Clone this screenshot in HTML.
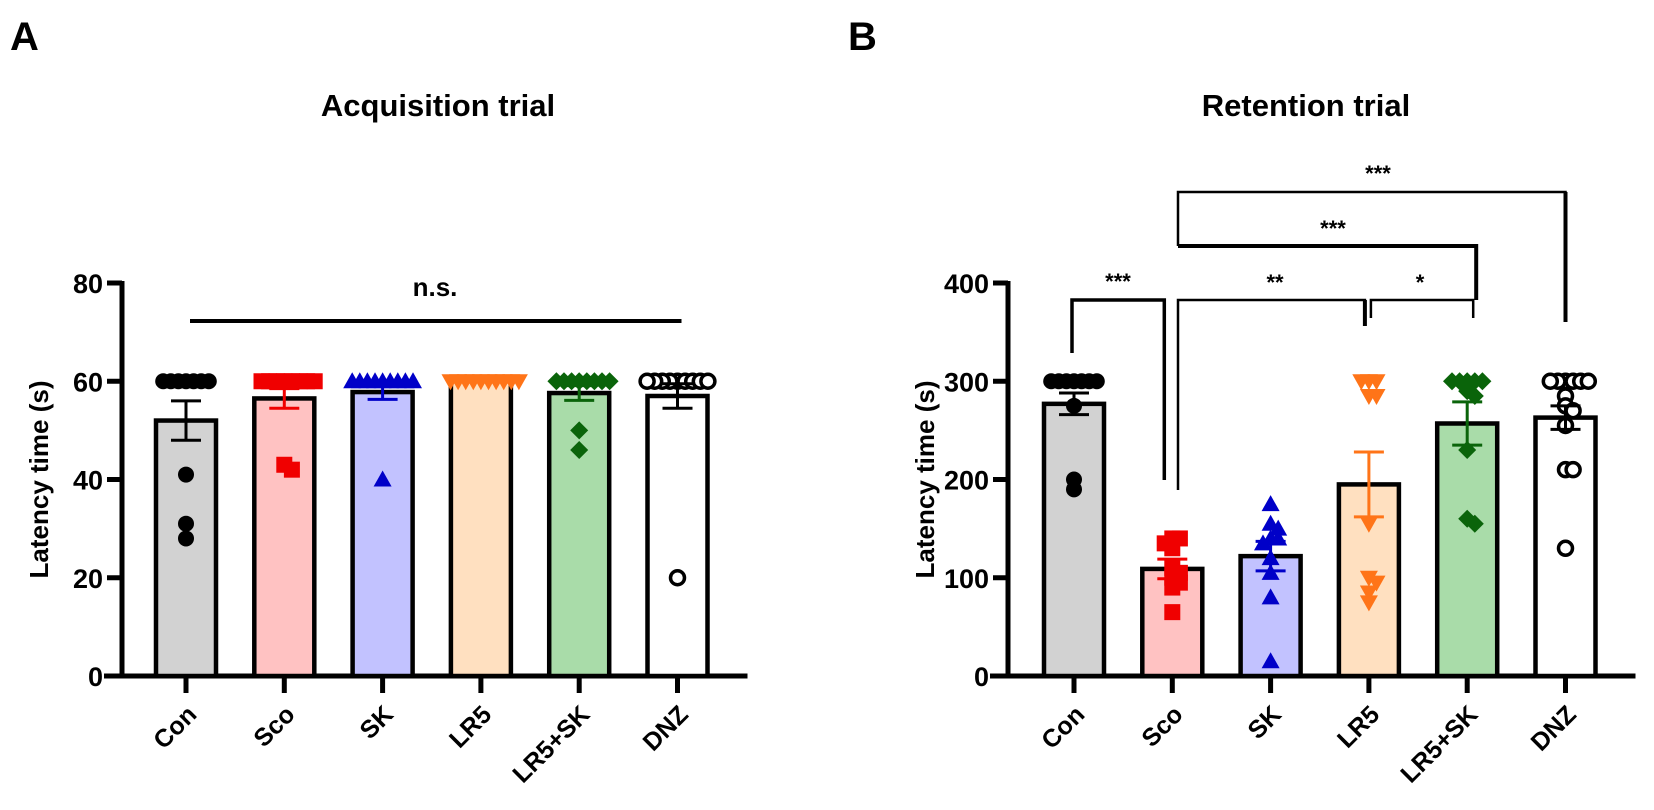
<!DOCTYPE html>
<html><head><meta charset="utf-8"><style>
body{margin:0;background:#fff;}
svg{display:block;font-family:"Liberation Sans",Arial,sans-serif;}
</style></head><body>
<svg id="fig" width="1654" height="810" viewBox="0 0 1654 810">
<text x="10" y="50" font-size="40" font-weight="bold">A</text>
<text x="848" y="50" font-size="40" font-weight="bold">B</text>
<text x="438" y="116" font-size="31" font-weight="bold" text-anchor="middle">Acquisition trial</text>
<text x="1306" y="116" font-size="31" font-weight="bold" text-anchor="middle">Retention trial</text>
</svg>
<script>
const categories = ["Con","Sco","SK","LR5","LR5+SK","DNZ"];
const acqMeans = [52, 56.5, 57.8, 60, 57.6, 57];
const acqSem = [4, 2, 1.5, 0, 1.5, 2.5];
const acqPoints = [
 [60,60,60,60,60,60,60,41,31,28],
 [60,60,60,60,60,60,60,60,43,42],
 [60,60,60,60,60,60,60,60,60,40],
 [60,60,60,60,60,60,60,60,60,60],
 [60,60,60,60,60,60,60,60,50,46],
 [60,60,60,60,60,60,60,60,60,20]
];
const retMeans = [277, 109, 122, 195, 257, 263];
const retSem = [11, 10, 15, 33, 22, 12];
const retPoints = [
 [300,300,300,300,300,300,300,275,200,190],
 [140,140,135,130,110,105,100,95,90,65],
 [175,155,150,140,140,135,120,105,80,15],
 [300,300,300,285,285,155,100,95,85,75],
 [300,300,300,300,300,290,285,230,160,155],
 [300,300,300,300,300,300,285,275,270,255,210,210,130]
];
const acqTicks = [0,20,40,60,80];
const retTicks = [0,100,200,300,400];

const fills = ["#d2d2d2","#ffc2c2","#c2c2ff","#ffe0c0","#a9dca9","#ffffff"];
const cols = ["#000","#f00000","#0000c8","#ff7418","#0a640a","#000"];
const shapes = ["circle","square","tri","tridown","diamond","open"];
const NS = "http://www.w3.org/2000/svg";
const svg = document.getElementById("fig");
function el(tag, attrs, parent){
  const e = document.createElementNS(NS, tag);
  for (const k in attrs) e.setAttribute(k, attrs[k]);
  (parent||svg).appendChild(e); return e;
}

function panel(cfg){
  const g = el("g", {});
  
  
  const y0 = 676, yTop = 283, max = cfg.max;
  const yS = v => y0 - (v/max)*(y0-yTop);
  const xS = i => cfg.x0 + i*98.3;
  const bw = 60;
  const ax = el("line",{x1:cfg.ax,y1:yTop-2,x2:cfg.ax,y2:y0+2,stroke:"#000","stroke-width":5},g);
  
  
  cfg.ticks.forEach(t=>{
    el("line",{x1:cfg.ax-15,y1:yS(t),x2:cfg.ax,y2:yS(t),stroke:"#000","stroke-width":5},g);
    const tl = el("text",{x:cfg.ax-19,y:yS(t)+10,"font-size":27,"font-weight":"bold","text-anchor":"end"},g);
    tl.textContent = t;
    
    
  });
  const yl = el("text",{x:0,y:0,"font-size":26,"font-weight":"bold","text-anchor":"middle",transform:`translate(${cfg.ax-74},${(y0+yTop)/2}) rotate(-90)`},g);
  yl.textContent = "Latency time (s)";
  
  
  const xa = el("line",{x1:cfg.ax-18,y1:y0,x2:xS(5)+70,y2:y0,stroke:"#000","stroke-width":5},g);
  
  
  categories.forEach((c,i)=>{
    const x = xS(i);
    el("line",{x1:x,y1:y0,x2:x,y2:y0+17,stroke:"#000","stroke-width":5},g);
    const bar = el("rect",{x:x-bw/2,y:yS(cfg.means[i]),width:bw,height:y0-yS(cfg.means[i]),fill:fills[i],stroke:"#000","stroke-width":4.5},g);
    
    
    const lbl = el("text",{x:0,y:0,"font-size":25,"font-weight":"bold","text-anchor":"end",transform:`translate(${x+12},${y0+40}) rotate(-45)`},g);
    lbl.textContent = c;
    
    
  });
  categories.forEach((c,i)=>{
    const cx = xS(i), placed = [];
    const pts = cfg.points[i].slice().sort((a,b)=>b-a);
    pts.forEach(v=>{
      const y = yS(v);
      let off = 0, k = 0;
      const ok = o => placed.every(p => Math.hypot(p[0]-o, p[1]-y) >= 7.5);
      while(!ok(off)){ k++; off = (k%2 ? 1 : -1)*Math.ceil(k/2)*3.8; }
      placed.push([off,y]);
      const x = cx+off, col = cols[i], s = 8;
      let m;
      if (shapes[i]=="circle") m = el("circle",{cx:x,cy:y,r:8,fill:col},g);
      else if (shapes[i]=="open") m = el("circle",{cx:x,cy:y,r:7,fill:"#fff",stroke:col,"stroke-width":3.5},g);
      else if (shapes[i]=="square") m = el("rect",{x:x-s,y:y-s,width:2*s,height:2*s,fill:col},g);
      else if (shapes[i]=="tri") m = el("polygon",{points:`${x},${y-9} ${x-9},${y+7} ${x+9},${y+7}`,fill:col},g);
      else if (shapes[i]=="tridown") m = el("polygon",{points:`${x},${y+9} ${x-9},${y-7} ${x+9},${y-7}`,fill:col},g);
      else m = el("polygon",{points:`${x},${y-9} ${x+9},${y} ${x},${y+9} ${x-9},${y}`,fill:col},g);
      
      
    });
  });
  categories.forEach((c,i)=>{
    const x = xS(i), m = cfg.means[i], s = cfg.sem[i];
    if (s<=0) return;
    const eg = el("g",{stroke:cols[i],"stroke-width":3},g);
    
    
    el("line",{x1:x,y1:yS(m+s),x2:x,y2:yS(m-s)},eg);
    el("line",{x1:x-15,y1:yS(m+s),x2:x+15,y2:yS(m+s)},eg);
    el("line",{x1:x-15,y1:yS(m-s),x2:x+15,y2:yS(m-s)},eg);
  });
  return {xS,yS};
}

const A = panel({name:"acquisition-chart",ax:122,x0:186,max:80,means:acqMeans,sem:acqSem,points:acqPoints,ticks:acqTicks});
const B = panel({name:"retention-chart",ax:1008,x0:1074,max:400,means:retMeans,sem:retSem,points:retPoints,ticks:retTicks});

const sig = el("g",{fill:"none",stroke:"#000"});


el("line",{x1:A.xS(0)+4,y1:321,x2:A.xS(5)+4,y2:321,"stroke-width":4},sig);
function txt(x,y,s,fs,name){
  const t = el("text",{x:x,y:y,"font-size":fs,"font-weight":"bold","text-anchor":"middle"});
  t.textContent = s;
  
  
}
txt(435,296,"n.s.",26,"ns-label");
el("polyline",{points:`${B.xS(0)-2},353 ${B.xS(0)-2},300 ${B.xS(1)-8},300 ${B.xS(1)-8},480`,"stroke-width":3.5},sig);
txt(1118,289,"***",22,"sig-con-sco");
el("polyline",{points:`1178,490 1178,300 ${B.xS(3)-4},300 ${B.xS(3)-4},325`,"stroke-width":2.5},sig);
el("line",{x1:B.xS(3)-4,y1:300,x2:B.xS(3)-4,y2:326,"stroke-width":4},sig);
txt(1275,290,"**",22,"sig-sco-lr5");
el("polyline",{points:`${B.xS(3)+2},318 ${B.xS(3)+2},300 ${B.xS(4)+6},300 ${B.xS(4)+6},318`,"stroke-width":2.5},sig);
txt(1420,290,"*",22,"sig-lr5-lr5sk");
el("polyline",{points:`1178,246 ${B.xS(4)+9},246 ${B.xS(4)+9},300`,"stroke-width":4},sig);
txt(1333,236,"***",22,"sig-sco-lr5sk");
el("polyline",{points:`1178,246 1178,192 ${B.xS(5)},192 ${B.xS(5)},322`,"stroke-width":2.5},sig);
el("line",{x1:B.xS(5),y1:192,x2:B.xS(5),y2:322,"stroke-width":4},sig);
txt(1378,181,"***",22,"sig-sco-dnz");
</script>
</body></html>
